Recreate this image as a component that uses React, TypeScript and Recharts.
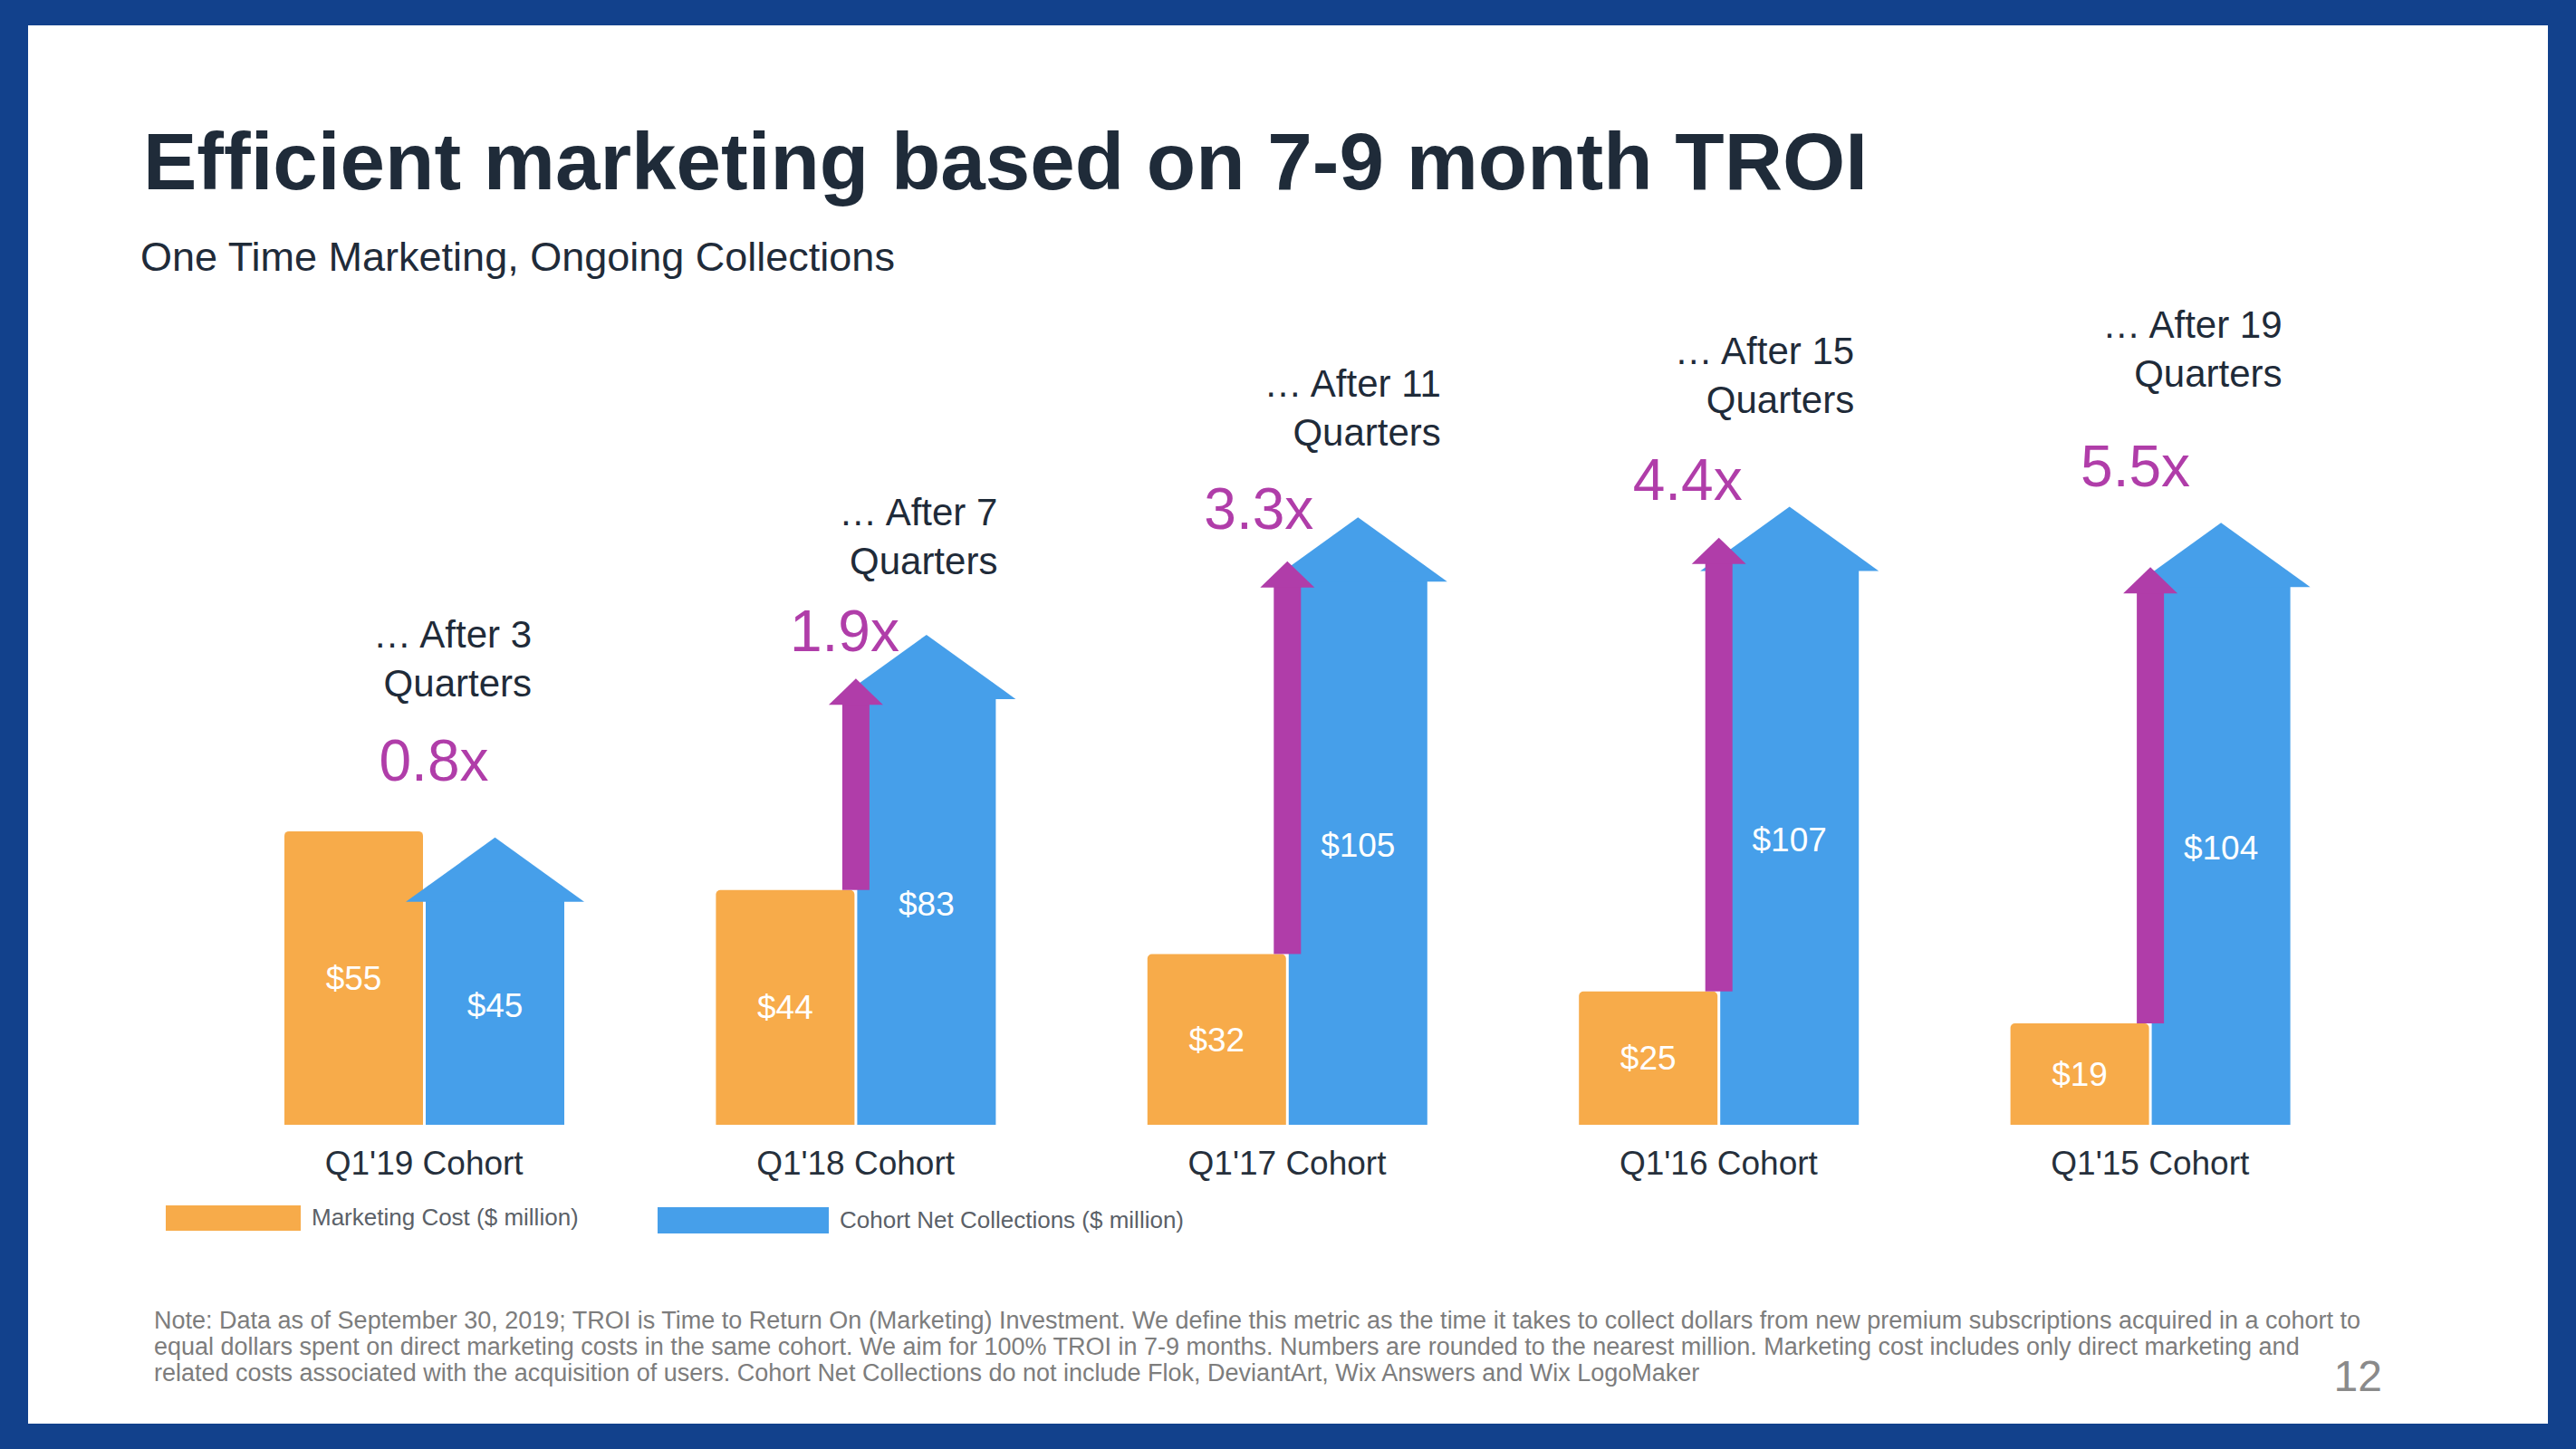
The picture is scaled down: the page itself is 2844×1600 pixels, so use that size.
import React from 'react';
import { BarChart, Bar, XAxis, YAxis, LabelList, Legend } from 'recharts';

const cohorts = ["Q1'19 Cohort", "Q1'18 Cohort", "Q1'17 Cohort", "Q1'16 Cohort", "Q1'15 Cohort"];
const marketingCost = [55, 44, 32, 25, 19];
const netCollections = [45, 83, 105, 107, 104];
const quartersAfter = [3, 7, 11, 15, 19];
const troiMultiple = [0.8, 1.9, 3.3, 4.4, 5.5];

// hand placed annotations on the slide (x offsets in px, y in $M on the value scale)
const noteLayout = [
  { noteDx: -36, noteY: 92, multDx: 9, multY: 68.3 },
  { noteDx: 2, noteY: 114.8, multDx: -14, multY: 92.6 },
  { noteDx: 15, noteY: 139, multDx: -33, multY: 115.4 },
  { noteDx: -5, noteY: 145, multDx: -36, multY: 120.9 },
  { noteDx: -9, noteY: 150, multDx: -18, multY: 123.4 },
];

const COST_NAME = 'Marketing Cost ($ million)';
const COLL_NAME = 'Cohort Net Collections ($ million)';

const legendLayout: Record<string, { left: number; top: number; w: number; h: number }> = {
  [COST_NAME]: { left: 183, top: 1329, w: 149, h: 28 },
  [COLL_NAME]: { left: 726, top: 1332, w: 189, h: 29 },
};

const ORANGE = '#f7ab4a';
const BLUE = '#469fea';
const PURPLE = '#b03da9';
const DARK = '#1f2b39';
const FONT = '"Liberation Sans", Arial, Helvetica, sans-serif';

const data = cohorts.map((c, i) => ({
  cohort: c,
  cost: marketingCost[i],
  collections: netCollections[i],
}));

const footnote = [
  'Note: Data as of September 30, 2019; TROI is Time to Return On (Marketing) Investment. We define this metric as the time it takes to collect dollars from new premium subscriptions acquired in a cohort to',
  'equal dollars spent on direct marketing costs in the same cohort. We aim for 100% TROI in 7-9 months. Numbers are rounded to the nearest million. Marketing cost includes only direct marketing and',
  'related costs associated with the acquisition of users. Cohort Net Collections do not include Flok, DeviantArt, Wix Answers and Wix LogoMaker',
];

const ArrowBar = (props: any) => {
  const { x, y, width, height, index } = props;
  const base = y + height;
  const k = height / netCollections[index];
  const toY = (v: number) => base - v * k;
  const cx = x + width / 2;
  const r = 8;
  const body = `M${x},${base} L${x},${y + r} Q${x},${y} ${x + r},${y} L${x + width - r},${y} Q${x + width},${y} ${x + width},${y + r} L${x + width},${base} Z`;
  const head = `${x - 22},${y + 19} ${cx},${y - 52} ${x + width + 22},${y + 19}`;

  const mult = troiMultiple[index];
  const lay = noteLayout[index];
  const px = x - 1.5;
  const pTop = toY(marketingCost[index] * mult);
  const pBottom = toY(marketingCost[index]);
  const noteY = toY(lay.noteY);

  return (
    <g>
      <path d={body} fill={BLUE} />
      <polygon points={head} fill={BLUE} />
      {mult > 1 && (
        <g fill={PURPLE}>
          <rect x={px - 15} y={pTop + 28} width={30} height={pBottom - pTop - 28} />
          <polygon points={`${px - 30},${pTop + 29} ${px},${pTop} ${px + 30},${pTop + 29}`} />
        </g>
      )}
      <text x={x + width + lay.noteDx} y={noteY} dy="0.35em" textAnchor="end" fontSize={42} fill={DARK} fontFamily={FONT}>
        {`… After ${quartersAfter[index]}`}
      </text>
      <text x={x + width + lay.noteDx} y={noteY + 54} dy="0.35em" textAnchor="end" fontSize={42} fill={DARK} fontFamily={FONT}>
        Quarters
      </text>
      <text x={x + lay.multDx} y={toY(lay.multY)} dy="0.35em" textAnchor="middle" fontSize={64} fill={PURPLE} fontFamily={FONT}>
        {`${mult.toFixed(1)}x`}
      </text>
    </g>
  );
};

const LegendBoxes = (props: any) => {
  const { payload } = props;
  return (
    <div style={{ position: 'relative', width: 2844, height: 1600 }}>
      {(payload || []).map((p: any) => {
        const l = legendLayout[p.value];
        if (!l) return null;
        return (
          <div key={p.value} style={{ position: 'absolute', left: l.left, top: l.top, display: 'flex', alignItems: 'center' }}>
            <div style={{ width: l.w, height: l.h, background: p.color }} />
            <span style={{ marginLeft: 12, fontSize: 26, color: '#5b6168', fontFamily: FONT, whiteSpace: 'nowrap' }}>{p.value}</span>
          </div>
        );
      })}
    </div>
  );
};

export default function App() {
  return (
    <div style={{ position: 'absolute', left: 0, top: 0, width: 2844, height: 1600, background: '#12418c', fontFamily: FONT }}>
      <div style={{ position: 'absolute', left: 31, top: 28, width: 2782, height: 1544, background: '#ffffff' }} />
      <div style={{ position: 'absolute', left: 158, top: 134, fontSize: 89, lineHeight: 1, fontWeight: 'bold', color: DARK, whiteSpace: 'nowrap' }}>
        Efficient marketing based on 7-9 month TROI
      </div>
      <div style={{ position: 'absolute', left: 155, top: 261, fontSize: 45, lineHeight: 1, color: DARK, whiteSpace: 'nowrap' }}>
        One Time Marketing, Ongoing Collections
      </div>
      <div style={{ position: 'absolute', left: 0, top: 0 }}>
        <BarChart
          width={2844}
          height={1600}
          data={data}
          margin={{ top: 417, right: 232, bottom: 328, left: 230 }}
          barSize={153}
          barGap={3}
        >
          <XAxis
            dataKey="cohort"
            height={30}
            axisLine={false}
            tickLine={false}
            tickSize={0}
            tickMargin={29}
            tick={{ fontSize: 37, fill: '#26303c', fontFamily: FONT }}
            interval={0}
          />
          <YAxis hide domain={[0, 140]} />
          <Legend
            layout="horizontal"
            align="center"
            verticalAlign="middle"
            wrapperStyle={{ left: 0, top: 0, width: 2844, height: 1600, pointerEvents: 'none' }}
            content={<LegendBoxes />}
          />
          <Bar dataKey="cost" name={COST_NAME} fill={ORANGE} radius={[5, 5, 0, 0]} isAnimationActive={false}>
            <LabelList dataKey="cost" position="center" formatter={(v: any) => `$${v}`} fill="#ffffff" fontSize={37} fontFamily={FONT} />
          </Bar>
          <Bar dataKey="collections" name={COLL_NAME} fill={BLUE} shape={<ArrowBar />} isAnimationActive={false}>
            <LabelList dataKey="collections" position="center" formatter={(v: any) => `$${v}`} fill="#ffffff" fontSize={37} fontFamily={FONT} />
          </Bar>
        </BarChart>
      </div>
      <div style={{ position: 'absolute', left: 170, top: 1444, fontSize: 27, lineHeight: '29px', color: '#7d7d7d', whiteSpace: 'nowrap' }}>
        {footnote.map((line) => (
          <div key={line.slice(0, 12)}>{line}</div>
        ))}
      </div>
      <div style={{ position: 'absolute', left: 2570, top: 1496, width: 60, textAlign: 'right', fontSize: 48, lineHeight: 1, color: '#8a8a8a' }}>
        12
      </div>
    </div>
  );
}
